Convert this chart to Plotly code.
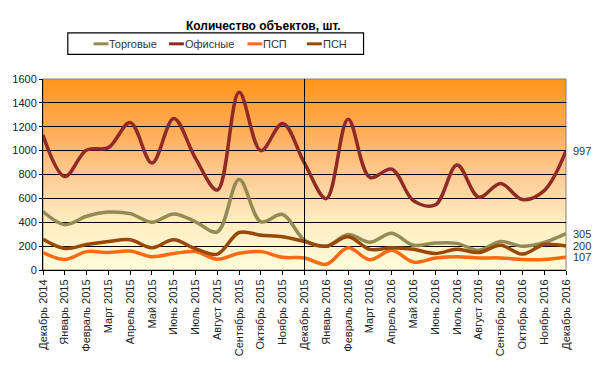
import base64
import plotly.graph_objects as go

categories = [
    "Декабрь 2014", "Январь 2015", "Февраль 2015", "Март 2015", "Апрель 2015",
    "Май 2015", "Июнь 2015", "Июль 2015", "Август 2015", "Сентябрь 2015",
    "Октябрь 2015", "Ноябрь 2015", "Декабрь 2015", "Январь 2016", "Февраль 2016",
    "Март 2016", "Апрель 2016", "Май 2016", "Июнь 2016", "Июль 2016",
    "Август 2016", "Сентябрь 2016", "Октябрь 2016", "Ноябрь 2016", "Декабрь 2016",
]

torgovye = [490, 380, 450, 485, 472, 400, 470, 404, 320, 758, 404, 465, 250,
            200, 298, 232, 308, 207, 226, 223, 165, 239, 199, 231, 305]
ofisnye = [1130, 784, 1005, 1025, 1236, 896, 1270, 935, 670, 1488, 1000, 1228, 895,
           598, 1263, 776, 845, 580, 545, 880, 610, 724, 590, 665, 997]
psp = [146, 88, 154, 146, 159, 112, 138, 154, 90, 141, 154, 106, 101,
       48, 186, 85, 165, 66, 101, 112, 101, 101, 88, 88, 107]
psn = [258, 181, 213, 239, 253, 186, 253, 178, 133, 314, 292, 279, 239,
       199, 279, 173, 186, 173, 138, 173, 146, 207, 133, 213, 200]

y_ticks = [0, 200, 400, 600, 800, 1000, 1200, 1400, 1600]
divider_category = "Декабрь 2015"

series = [
    ("Торговые", torgovye, "#948A54"),
    ("Офисные", ofisnye, "#8E2B27"),
    ("ПСП", psp, "#FF6A13"),
    ("ПСН", psn, "#984807"),
]

FONT = "Liberation Sans, Arial, sans-serif"

# figure geometry (pixels)
W, H = 600, 368
ML, MR, MT, MB = 39, 34, 79, 88
PW, PH = W - ML - MR, H - MT - MB


def px_x(p):
    return (p - ML) / PW


def px_y(p):
    return (H - MB - p) / PH


fig = go.Figure()
for name, vals, color in series:
    fig.add_trace(go.Scatter(
        x=categories, y=vals, name=name, mode="lines",
        line=dict(color=color, width=3.5, shape="spline", smoothing=1.0),
        hoverinfo="x+y+name", showlegend=False,
    ))

# right-side value labels for the last point of selected series
for vals in (ofisnye, torgovye, psn, psp):
    fig.add_annotation(
        x=categories[-1], y=vals[-1], text=str(vals[-1]),
        showarrow=False, xanchor="left", yanchor="middle", xshift=5,
        font=dict(family=FONT, size=11, color="#333333"),
    )

# gradient background
svg = (
    '<svg xmlns="http://www.w3.org/2000/svg" width="100" height="100" preserveAspectRatio="none">'
    '<defs><linearGradient id="g" x1="0" y1="0" x2="0" y2="1">'
    '<stop offset="0" stop-color="#FF961C"/>'
    '<stop offset="0.25" stop-color="#FFAA52"/>'
    '<stop offset="0.5" stop-color="#FFCA92"/>'
    '<stop offset="0.75" stop-color="#FEEDC2"/>'
    '<stop offset="1" stop-color="#FFFCDA"/>'
    '</linearGradient></defs>'
    '<rect width="100" height="100" fill="url(#g)"/></svg>'
)
src = "data:image/svg+xml;base64," + base64.b64encode(svg.encode()).decode()
fig.add_layout_image(dict(
    source=src, xref="paper", yref="paper", x=0, y=1, sizex=1, sizey=1,
    sizing="stretch", xanchor="left", yanchor="top", layer="below",
))

div_idx = categories.index(divider_category)
fig.add_shape(type="line", xref="x", yref="paper", x0=div_idx, x1=div_idx,
              y0=0, y1=1, line=dict(color="black", width=1))
# gray border on top/right
fig.add_shape(type="rect", xref="paper", yref="paper", x0=0, x1=1, y0=0, y1=1,
              line=dict(color="#808080", width=1), layer="below")

# legend box (drawn manually to match the Excel-style compact legend)
fig.add_shape(type="rect", xref="paper", yref="paper",
              x0=px_x(64), x1=px_x(362), y0=px_y(53), y1=px_y(30.5),
              line=dict(color="black", width=1.2), fillcolor="white")
legend_line_starts = [90, 166, 245, 305]
for (name, _, color), lx in zip(series, legend_line_starts):
    fig.add_shape(type="line", xref="paper", yref="paper",
                  x0=px_x(lx), x1=px_x(lx + 15), y0=px_y(42), y1=px_y(42),
                  line=dict(color=color, width=3))
    fig.add_annotation(xref="paper", yref="paper", x=px_x(lx + 15), y=px_y(42),
                       text=name, showarrow=False, xanchor="left", yanchor="middle",
                       xshift=-1, font=dict(family=FONT, size=11, color="#333333"))

fig.update_layout(
    width=W, height=H,
    margin=dict(l=ML, r=MR, t=MT, b=MB),
    paper_bgcolor="white", plot_bgcolor="rgba(0,0,0,0)",
    font=dict(family=FONT, size=11, color="#222222"),
    title=dict(text="<b>Количество объектов, шт.</b>", x=186 / 600, xanchor="left",
               y=0.93, yanchor="middle",
               font=dict(family=FONT, size=12, color="black")),
    showlegend=False,
    xaxis=dict(
        type="category", range=[0, len(categories) - 1],
        tickangle=-90, tickfont=dict(family=FONT, size=11, color="#222222"),
        showgrid=False, showline=True, linecolor="black", linewidth=1,
        ticks="outside", ticklen=4, tickcolor="black", mirror=False,
        zeroline=False,
    ),
    yaxis=dict(
        range=[0, 1600], tickvals=y_ticks,
        showgrid=True, gridcolor="black", gridwidth=1,
        showline=True, linecolor="black", linewidth=1,
        ticks="outside", ticklen=3, tickcolor="black",
        tickfont=dict(family=FONT, size=11, color="#222222"),
        zeroline=False,
    ),
)

fig.write_html("out.html", config={"displayModeBar": False},
               post_script="document.body.style.margin='0';")
